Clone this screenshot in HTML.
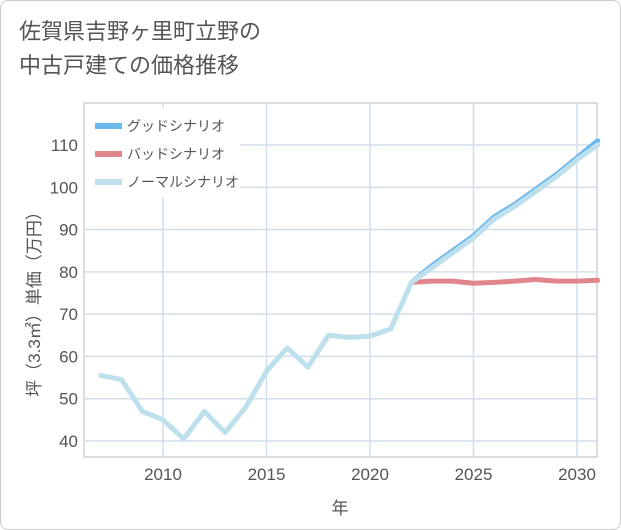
<!DOCTYPE html>
<html><head><meta charset="utf-8"><style>
body{margin:0;background:#fff;font-family:"Liberation Sans","Noto Sans CJK JP",sans-serif}
#wrap{position:relative;width:619px;height:528px;border:1px solid #ccc;border-radius:8px;background:#fff}
#title{position:absolute;left:18px;top:14px;font-size:22px;line-height:34px;color:#555}
</style></head><body>
<div id="wrap">
<div id="title">佐賀県吉野ヶ里町立野の<br>中古戸建ての価格推移</div>
<svg id="chart" width="621" height="530" style="position:absolute;left:-1px;top:-1px"></svg>
</div>
<script>
const years=[2007,2008,2009,2010,2011,2012,2013,2014,2015,2016,2017,2018,2019,2020,2021,2022];
const normalHist=[55.5,54.5,47,45,40.5,47,42,48,56.5,62,57.5,65,64.5,64.8,66.5,77.5];
const futYears=[2022,2023,2024,2025,2026,2027,2028,2029,2030,2031];
const good=[77.5,81.5,85,88.5,93,96,99.5,103,107,111];
const bad=[77.5,77.8,77.8,77.3,77.5,77.8,78.2,77.8,77.8,78];
const normal=[77.5,81,84.5,88,92.5,95.5,99,102.5,106.5,110];
const yTicks=[40,50,60,70,80,90,100,110];
const xTicks=[2010,2015,2020,2025,2030];
const ns="http://www.w3.org/2000/svg";
const svg=document.getElementById('chart');
const L=84,R=597,T=103,B=457;
const x=v=>163+(v-2010)*20.7;
const y=v=>441-(v-40)*4.229;
function mk(t,a){const e=document.createElementNS(ns,t);for(const k in a)e.setAttribute(k,a[k]);svg.appendChild(e);return e;}
const bg=mk('rect',{x:L,y:T,width:R-L,height:B-T,fill:'#fff',stroke:'#bbb'});


yTicks.forEach(v=>{const g=mk('line',{x1:L,x2:R,y1:y(v),y2:y(v),stroke:'#d3dfea','stroke-width':1.5});


const t=mk('text',{x:L-6,y:y(v)+6,'text-anchor':'end','font-size':17,fill:'#555'});t.textContent=v;

});
xTicks.forEach(v=>{const g=mk('line',{x1:x(v),x2:x(v),y1:T,y2:B,stroke:'#d3dfea','stroke-width':1.5});


const t=mk('text',{x:x(v),y:B+23,'text-anchor':'middle','font-size':17,fill:'#555'});t.textContent=v;

});
const xt=mk('text',{x:340,y:514,'text-anchor':'middle','font-size':17,fill:'#555'});xt.textContent='年';


const yt=mk('text',{x:0,y:0,'text-anchor':'middle','font-size':17,fill:'#555',transform:'translate(40,300) rotate(-90)'});yt.textContent='坪（3.3㎡）単価（万円）';


function line(xs,vs,c,name){const p=mk('polyline',{points:xs.map((a,i)=>x(a)+','+y(vs[i])).join(' '),fill:'none',stroke:c,'stroke-width':5,'stroke-linejoin':'round','stroke-linecap':'round'});

}
line(futYears,good,'#6bb8ee','good-scenario-line');
line(futYears,bad,'#e0868c','bad-scenario-line');
line(years,normalHist,'#bde0ec','normal-history-line');
line(futYears,normal,'#bde0ec','normal-scenario-line');
const lg=mk('rect',{x:85,y:108,width:155,height:90,fill:'#fff'});


[['グッドシナリオ','#6bb8ee'],['バッドシナリオ','#e0868c'],['ノーマルシナリオ','#bde0ec']].forEach((d,i)=>{
const yy=126+i*28;
const s=mk('line',{x1:95,x2:122,y1:yy,y2:yy,stroke:d[1],'stroke-width':6});


const t=mk('text',{x:127,y:yy+5,'font-size':14,fill:'#555'});t.textContent=d[0];

});
</script>
</body></html>
